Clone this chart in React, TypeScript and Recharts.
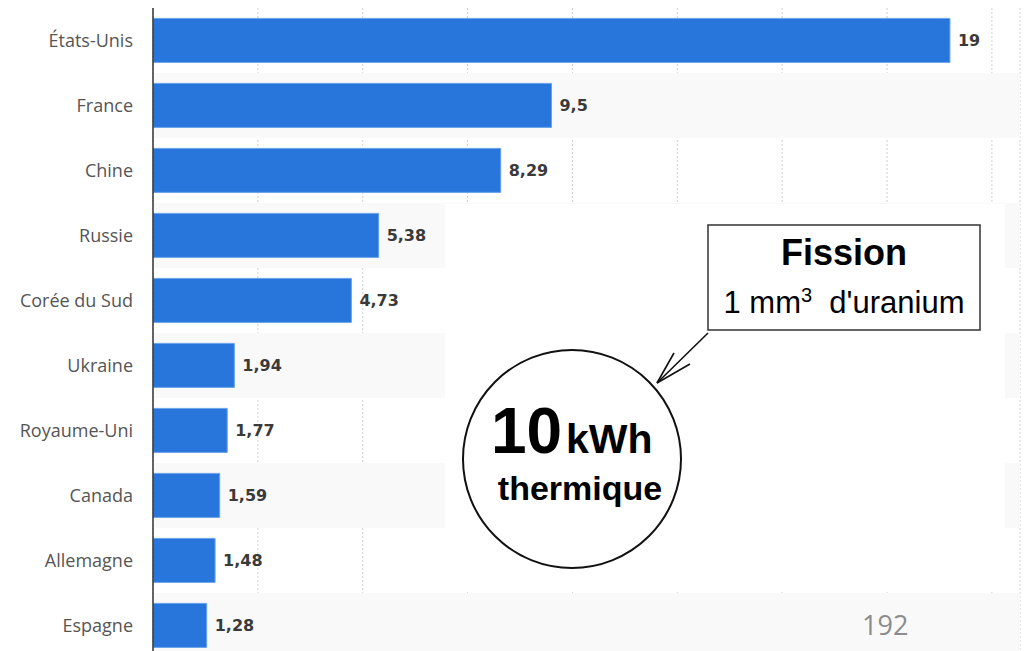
import { BarChart, Bar, XAxis, YAxis, CartesianGrid, LabelList, ReferenceArea } from "recharts";

const countries = [
  "États-Unis",
  "France",
  "Chine",
  "Russie",
  "Corée du Sud",
  "Ukraine",
  "Royaume-Uni",
  "Canada",
  "Allemagne",
  "Espagne",
];
const values = [19, 9.5, 8.29, 5.38, 4.73, 1.94, 1.77, 1.59, 1.48, 1.28];
const xTicks = [0, 2.5, 5, 7.5, 10, 12.5, 15, 17.5, 20];
const shadedRows = ["France", "Russie", "Ukraine", "Canada", "Espagne"];

const data = countries.map((name, i) => ({ name, value: values[i] }));

const frNumber = (v: any) => String(v).replace(".", ",");

function Overlay() {
  return (
    <svg
      width={1026}
      height={651}
      style={{ position: "absolute", left: 0, top: 0, pointerEvents: "none" }}
    >
      {/* fond blanc de l'illustration collée */}
      <rect x={445} y={204} width={560} height={388} fill="#fff" />
      {/* boite Fission */}
      <rect x={708} y={225} width={272} height={105} fill="#fff" stroke="#333" strokeWidth={1.5} />
      <text x={844} y={265} textAnchor="middle" style={{ fontFamily: "Liberation Sans", fontWeight: 700, fontSize: 36 }}>
        Fission
      </text>
      <text x={844} y={313} textAnchor="middle" style={{ fontFamily: "Liberation Sans", fontSize: 31 }}>
        1 mm<tspan dy={-11} fontSize={20}>3</tspan>
        <tspan dy={11}>{"\u00a0\u00a0d'uranium"}</tspan>
      </text>
      {/* fleche */}
      <g stroke="#111" strokeWidth={1.6} fill="none">
        <line x1={708} y1={333} x2={657} y2={383} />
        <line x1={657} y1={383} x2={674} y2={353} />
        <line x1={657} y1={383} x2={690} y2={364} />
      </g>
      {/* cercle */}
      <circle cx={572} cy={459} r={109} fill="#fff" stroke="#111" strokeWidth={2} />
      <text x={491} y={453} style={{ fontFamily: "Liberation Sans", fontWeight: 700, fontSize: 64 }}>
        10
      </text>
      <text x={566} y={453} style={{ fontFamily: "Liberation Sans", fontWeight: 700, fontSize: 41 }}>
        kWh
      </text>
      <text x={580} y={500} textAnchor="middle" style={{ fontFamily: "Liberation Sans", fontWeight: 700, fontSize: 34 }}>
        thermique
      </text>
      <text x={862} y={635} style={{ fontFamily: "Open Sans", fontSize: 27, fill: "#8c8c8c" }}>
        192
      </text>
    </svg>
  );
}

export default function App() {
  return (
    <div
      style={{
        position: "absolute",
        left: 0,
        top: 0,
        width: 1026,
        height: 651,
        overflow: "hidden",
        background: "#fff",
      }}
    >
      <BarChart
        width={1026}
        height={658}
        data={data}
        layout="vertical"
        margin={{ top: 8, right: 6, left: 0, bottom: 0 }}
        barCategoryGap="16%"
      >
        {shadedRows.map((r) => (
          <ReferenceArea key={r} y1={r} y2={r} fill="#f9f9f9" fillOpacity={1} stroke="none" />
        ))}
        <CartesianGrid horizontal={false} stroke="#cfcfcf" strokeDasharray="2 2" />
        <XAxis type="number" domain={[0, 20.67]} ticks={xTicks} hide allowDataOverflow />
        <YAxis
          type="category"
          dataKey="name"
          width={153}
          tickLine={false}
          tickSize={6}
          tickMargin={14}
          axisLine={{ stroke: "#333", strokeWidth: 1.5 }}
          tick={{ fill: "#555", fontSize: 18, fontFamily: "Open Sans" }}
          interval={0}
        />
        <Bar dataKey="value" fill="#2876dc" stroke="#6aa3ea" strokeWidth={1} isAnimationActive={false}>
          <LabelList
            dataKey="value"
            position="right"
            offset={8}
            formatter={frNumber}
            style={{ fill: "#3a3a3a", fontSize: 16, fontWeight: 700, fontFamily: "DejaVu Sans" }}
          />
        </Bar>
      </BarChart>
      <Overlay />
    </div>
  );
}
